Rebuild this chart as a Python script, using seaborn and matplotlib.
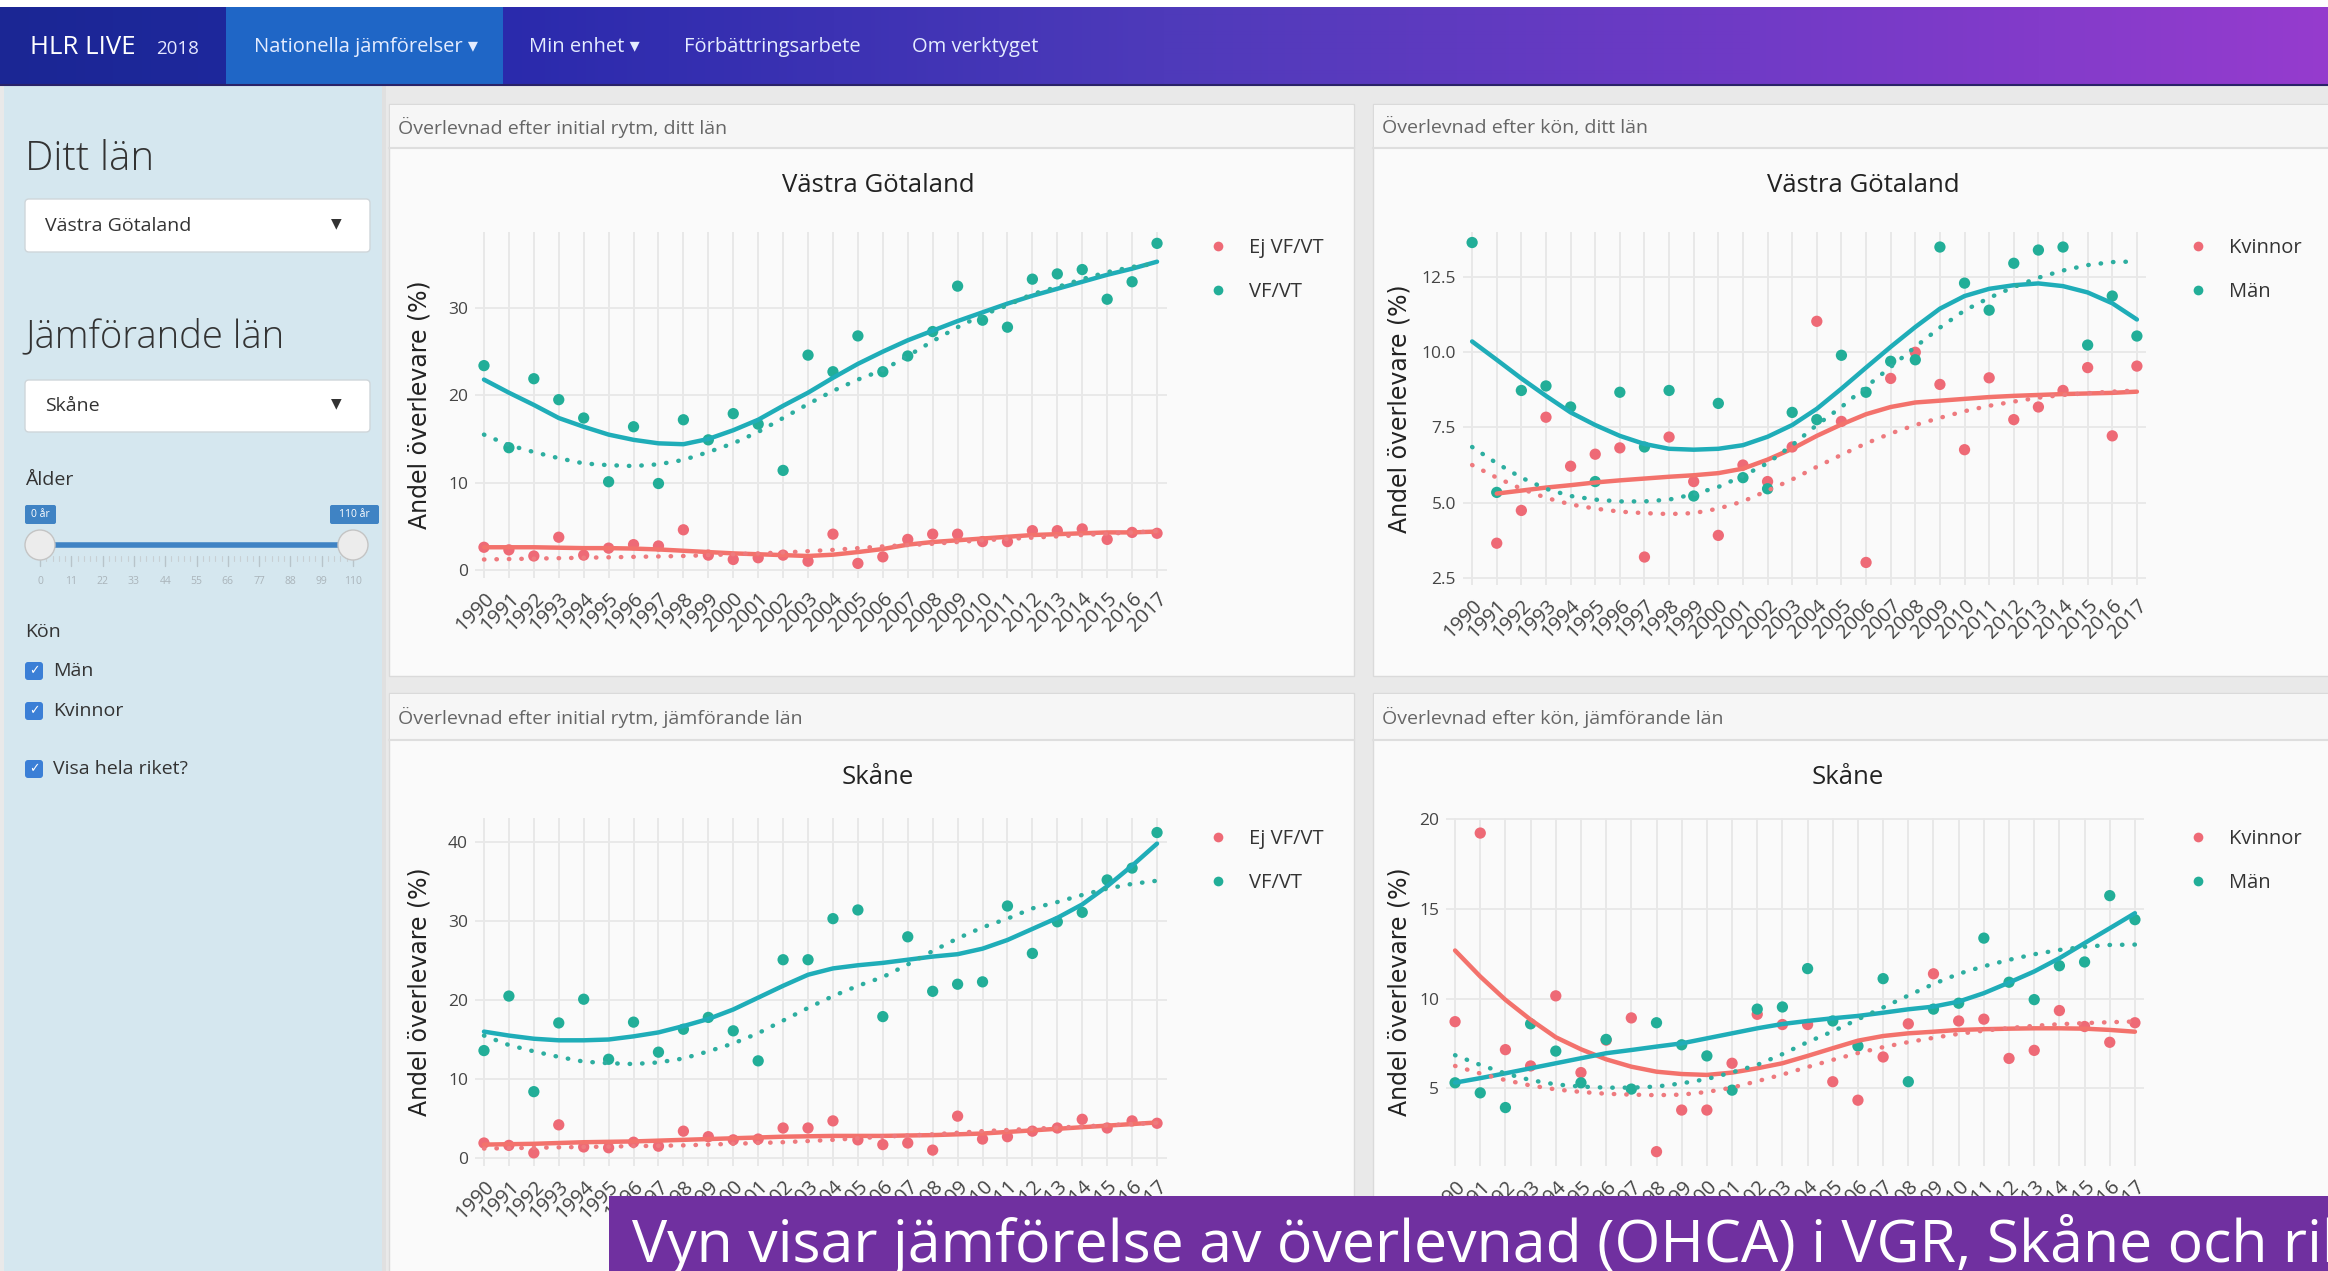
import numpy as np
import pandas as pd
import matplotlib
matplotlib.use("Agg")
import matplotlib.pyplot as plt
from matplotlib.patches import Rectangle, FancyBboxPatch, Circle
from matplotlib.lines import Line2D
import seaborn as sns

# ---------------------------------------------------------------- data
years = list(range(1990, 2018))
year_labels = [str(y) for y in years]
rhythm_groups = ["Ej VF/VT", "VF/VT"]
sex_groups = ["Kvinnor", "Män"]
NaN = np.nan

# Västra Götaland - initial rhythm
vg_ejvf_obs = [2.6, 2.3, 1.6, 3.75, 1.7, 2.5, 2.9, 2.75, 4.6, 1.7, 1.2, 1.4, 1.7, 1.0,
               4.1, 0.75, 1.5, 3.5, 4.1, 4.1, 3.25, 3.25, 4.5, 4.5, 4.7, 3.5, 4.3, 4.2]
vg_vf_obs = [23.4, 14.0, 21.9, 19.5, 17.4, 10.1, 16.4, 9.9, 17.2, 14.9, 17.9, 16.7, 11.4, 24.6,
             22.7, 26.8, 22.7, 24.5, 27.3, 32.5, 28.6, 27.8, 33.3, 33.9, 34.4, 31.0, 33.0, 37.4]
vg_ejvf_fit = [2.6, 2.6, 2.6, 2.55, 2.5, 2.5, 2.45, 2.35, 2.2, 2.05, 1.9, 1.8, 1.7, 1.6,
               1.75, 2.05, 2.4, 2.9, 3.2, 3.4, 3.6, 3.8, 4.0, 4.1, 4.2, 4.3, 4.3, 4.4]
vg_vf_fit = [21.8, 20.3, 18.9, 17.4, 16.4, 15.5, 14.9, 14.5, 14.4, 15.0, 16.0, 17.2, 18.8, 20.3,
             22.0, 23.6, 25.0, 26.3, 27.4, 28.5, 29.5, 30.5, 31.4, 32.2, 33.0, 33.8, 34.5, 35.3]

# Skåne - initial rhythm
sk_ejvf_obs = [1.9, 1.6, 0.65, 4.2, 1.4, 1.3, 2.0, 1.5, 3.4, 2.7, 2.3, 2.4, 3.8, 3.8,
               4.7, 2.3, 1.7, 1.9, 1.0, 5.3, 2.4, 2.7, 3.4, 3.8, 4.9, 3.8, 4.7, 4.4]
sk_vf_obs = [13.6, 20.5, 8.4, 17.1, 20.1, 12.5, 17.2, 13.4, 16.3, 17.8, 16.1, 12.3, 25.1, 25.1,
             30.3, 31.4, 17.9, 28.0, 21.1, 22.0, 22.3, 31.9, 25.9, 29.9, 31.1, 35.2, 36.7, 41.2]
sk_ejvf_fit = [1.7, 1.75, 1.8, 1.9, 2.0, 2.05, 2.1, 2.2, 2.3, 2.4, 2.5, 2.6, 2.7, 2.75,
               2.8, 2.8, 2.8, 2.85, 2.9, 3.0, 3.1, 3.3, 3.5, 3.7, 3.9, 4.1, 4.3, 4.5]
sk_vf_fit = [16.0, 15.5, 15.1, 14.9, 14.9, 15.0, 15.4, 15.9, 16.7, 17.6, 18.8, 20.3, 21.8, 23.2,
             24.0, 24.4, 24.7, 25.1, 25.5, 25.8, 26.5, 27.6, 29.0, 30.4, 32.1, 34.4, 37.0, 39.8]

# Hela riket - initial rhythm (dotted)
nat_ejvf_fit = [1.2, 1.25, 1.3, 1.35, 1.4, 1.45, 1.5, 1.55, 1.6, 1.7, 1.8, 1.9, 2.0, 2.15,
                2.3, 2.5, 2.7, 2.85, 3.0, 3.2, 3.4, 3.55, 3.7, 3.85, 4.0, 4.15, 4.3, 4.45]
nat_vf_fit = [15.5, 14.3, 13.5, 12.8, 12.2, 12.0, 11.9, 12.1, 12.6, 13.5, 14.5, 15.8, 17.4, 19.0,
              20.5, 21.8, 22.9, 24.5, 26.2, 27.8, 29.2, 30.3, 31.6, 32.4, 33.3, 34.1, 34.7, 35.1]

# Västra Götaland - sex
vg_kv_obs = [NaN, 3.65, 4.74, 7.84, 6.21, 6.61, 6.82, 3.19, 7.18, 5.70, 3.91, 6.25, 5.70, 6.85,
             11.03, 7.70, 3.01, 9.13, 10.0, 8.93, 6.76, 9.15, 7.76, 8.18, 8.73, 9.49, 7.22, 9.54]
vg_man_obs = [13.65, 5.34, 8.73, 8.88, 8.18, 5.70, 8.67, 6.85, 8.73, 5.22, 8.30, 5.83, 5.46, 8.0,
              7.76, 9.9, 8.67, 9.7, 9.75, 13.5, 12.3, 11.4, 12.96, 13.4, 13.5, 10.24, 11.87, 10.54]
vg_kv_fit = [NaN, 5.3, 5.4, 5.5, 5.58, 5.67, 5.74, 5.80, 5.86, 5.91, 5.98, 6.13, 6.43, 6.79,
             7.22, 7.60, 7.94, 8.18, 8.33, 8.39, 8.45, 8.51, 8.55, 8.58, 8.61, 8.63, 8.65, 8.69]
vg_man_fit = [10.36, 9.75, 9.13, 8.55, 8.0, 7.58, 7.22, 6.95, 6.79, 6.76, 6.79, 6.91, 7.19, 7.58,
              8.12, 8.79, 9.49, 10.18, 10.84, 11.45, 11.87, 12.11, 12.23, 12.29, 12.2, 11.99, 11.63, 11.09]

# Skåne - sex
sk_kv_obs = [8.72, 19.24, 7.16, 6.25, 10.16, 5.88, 7.69, 8.93, 1.47, 3.79, 3.79, 6.40, 9.13, 8.56,
             8.56, 5.37, 4.34, 6.75, 8.60, 11.39, 8.76, 8.86, 6.67, 7.12, 9.34, 8.45, 7.57, 8.66]
sk_man_obs = [5.31, 4.75, 3.93, 8.60, 7.08, 5.31, 7.73, 4.96, 8.66, 7.43, 6.81, 4.90, 9.42, 9.54,
              11.68, 8.76, 7.36, 11.12, 5.37, 9.42, 9.75, 13.38, 10.92, 9.95, 11.84, 12.05, 15.75, 14.41]
sk_kv_fit = [12.69, 11.24, 9.94, 8.83, 7.85, 7.18, 6.62, 6.21, 5.93, 5.80, 5.75, 5.88, 6.12, 6.40,
             6.81, 7.24, 7.66, 7.92, 8.07, 8.16, 8.26, 8.30, 8.33, 8.35, 8.35, 8.33, 8.26, 8.16]
sk_man_fit = [5.32, 5.57, 5.84, 6.12, 6.40, 6.68, 6.96, 7.14, 7.33, 7.51, 7.79, 8.07, 8.35, 8.59,
              8.76, 8.91, 9.04, 9.22, 9.41, 9.56, 9.84, 10.31, 10.9, 11.52, 12.26, 13.1, 13.93, 14.77]

# Hela riket - sex (dotted)
nat_kv_fit = [6.25, 5.83, 5.46, 5.16, 4.94, 4.80, 4.70, 4.65, 4.62, 4.65, 4.80, 5.04, 5.40, 5.77,
              6.19, 6.59, 6.97, 7.30, 7.58, 7.82, 8.04, 8.22, 8.36, 8.49, 8.58, 8.64, 8.69, 8.73]
nat_man_fit = [6.85, 6.31, 5.83, 5.46, 5.22, 5.1, 5.04, 5.04, 5.1, 5.28, 5.52, 5.89, 6.31, 6.91,
               7.58, 8.18, 8.85, 9.51, 10.18, 10.82, 11.39, 11.81, 12.17, 12.48, 12.72, 12.9, 13.0, 13.02]

yticks_vg_rhythm = [0, 10, 20, 30]
yticks_sk_rhythm = [0, 10, 20, 30, 40]
yticks_vg_sex = [2.5, 5.0, 7.5, 10.0, 12.5]
yticks_sk_sex = [5, 10, 15, 20]

nav_items = ["Nationella jämförelser ▾", "Min enhet ▾", "Förbättringsarbete", "Om verktyget"]
slider_labels = ["0", "11", "22", "33", "44", "55", "66", "77", "88", "99", "110"]
checkbox_labels = ["Män", "Kvinnor", "Visa hela riket?"]
panel_headers = ["Överlevnad efter initial rytm, ditt län", "Överlevnad efter kön, ditt län",
                 "Överlevnad efter initial rytm, jämförande län", "Överlevnad efter kön, jämförande län"]
caption = "Vyn visar jämförelse av överlevnad (OHCA) i VGR, Skåne och riket"

# ---------------------------------------------------------------- style
W, H = 2328, 1271
sns.set_theme(style="white")
plt.rcParams["font.family"] = ["Open Sans", "DejaVu Sans"]

RED_PT, TEAL_PT = "#EE6A76", "#22AE98"
RED_LN, TEAL_LN = "#F3726C", "#1FADB8"
RED_DOT, TEAL_DOT = "#EE7A7E", "#2DAEA0"

fig = plt.figure(figsize=(W / 100, H / 100), dpi=100)
fig.patch.set_facecolor("#e9e9e9")

bg = fig.add_axes([0, 0, 1, 1], zorder=-1)
bg.axis("off")


def box(ax, l, t, r, b, fc, ec="none", lw=0, z=1, rnd=0):
    if rnd:
        p = FancyBboxPatch((l, t), r - l, b - t, boxstyle=f"round,pad=0,rounding_size={rnd}",
                           fc=fc, ec=ec, lw=lw, zorder=z)
    else:
        p = Rectangle((l, t), r - l, b - t, fc=fc, ec=ec, lw=lw, zorder=z)
    ax.add_patch(p)


# top strip + nav bar gradient
box(bg, 0, 0, W, 7, "white", z=0.5)
stops_x = [0, 226, 503, 1164, 1750, 2328]
stops_c = [(27, 38, 148), (30, 40, 156), (42, 42, 172), (78, 58, 186), (112, 58, 198), (150, 60, 206)]
xs = np.arange(W)
grad = np.stack([np.interp(xs, stops_x, [c[i] for c in stops_c]) for i in range(3)], axis=-1) / 255
grad = np.repeat(grad[None, :, :], 2, axis=0)
bg.imshow(grad, extent=(0, W, 85, 7), aspect="auto", zorder=1, interpolation="bilinear")
box(bg, 226, 7, 503, 85, "#1f66c6", z=2)
bg.plot([0, W], [85, 85], color="#2a2368", lw=1.5, zorder=2)
bg.text(30, 47, "HLR LIVE", color="white", fontsize=18.5, va="center", zorder=3)
bg.text(156, 49, "2018", color="#e6e8ff", fontsize=13.5, va="center", zorder=3)
for x, label in zip([254, 529, 684, 912], nav_items):
    bg.text(x, 47, label, color="#e4ecff", fontsize=14.5, va="center", zorder=3,
            family=["Open Sans", "DejaVu Sans"])

# sidebar
box(bg, 4, 86, 382, H, "#d5e7ef", z=1)
box(bg, 382, 86, 386, H, "#e0e0e0", z=1)
bg.text(25, 159, "Ditt län", fontsize=29, color="#333", va="center", fontweight="light", zorder=3)
box(bg, 25, 199, 370, 252, "white", ec="#cfd6da", lw=1, z=2, rnd=4)
bg.text(45, 226, "Västra Götaland", fontsize=14, color="#333", va="center", zorder=3)
bg.text(336, 224, "▼", fontsize=10, color="#333", va="center", ha="center", zorder=3)
bg.text(25, 337, "Jämförande län", fontsize=27.5, color="#333", va="center", fontweight="light", zorder=3)
box(bg, 25, 380, 370, 432, "white", ec="#cfd6da", lw=1, z=2, rnd=4)
bg.text(45, 406, "Skåne", fontsize=14, color="#333", va="center", zorder=3)
bg.text(336, 404, "▼", fontsize=10, color="#333", va="center", ha="center", zorder=3)
bg.text(25, 480, "Ålder", fontsize=14, color="#333", va="center", zorder=3)
box(bg, 25, 505, 56, 524, "#3f83c4", z=2, rnd=2)
bg.text(40.5, 514.5, "0 år", fontsize=7.5, color="white", ha="center", va="center", zorder=3)
box(bg, 330, 505, 379, 524, "#3f83c4", z=2, rnd=2)
bg.text(354.5, 514.5, "110 år", fontsize=7.5, color="white", ha="center", va="center", zorder=3)
bg.plot([40, 353], [545, 545], color="#3f83c4", lw=4, solid_capstyle="butt", zorder=2)
tick_x = np.linspace(40, 353, len(slider_labels))
for i, (tx, lab) in enumerate(zip(tick_x, slider_labels)):
    bg.plot([tx, tx], [556, 566], color="#b8c4ca", lw=1, zorder=2)
    bg.text(tx, 582, lab, fontsize=7.5, color="#aab4ba", ha="center", va="center", zorder=3)
    if i < len(slider_labels) - 1:
        for k in range(1, 5):
            mx = tx + k * (tick_x[1] - tick_x[0]) / 5
            bg.plot([mx, mx], [556, 561], color="#c8d0d4", lw=0.8, zorder=2)
for hx in (40, 353):
    bg.add_patch(Circle((hx, 545), 15, fc="#ececec", ec="#c4c4c4", lw=1, zorder=4))
bg.text(25, 632, "Kön", fontsize=14, color="#333", va="center", zorder=3)
for cy, lab in zip([671, 711, 769], checkbox_labels):
    box(bg, 25, cy - 9, 43, cy + 9, "#3b7fd6", z=2, rnd=3)
    bg.text(34, cy, "✓", fontsize=9, color="white", ha="center", va="center",
            family=["DejaVu Sans"], zorder=3)
    bg.text(53, cy, lab, fontsize=14, color="#333", va="center", zorder=3)

# panels
panel_boxes = [(389, 104, 1354, 676, 148), (1373, 104, W + 5, 676, 148),
               (389, 693, 1354, H + 5, 740), (1373, 693, W + 5, H + 5, 740)]
for (l, t, r, b, sep), head in zip(panel_boxes, panel_headers):
    box(bg, l, t, r, b, "#fafafa", ec="#dadada", lw=1, z=1)
    box(bg, l + 1, t + 1, r - 1, sep, "#f6f6f6", z=1.5)
    bg.plot([l, r], [sep, sep], color="#dedede", lw=1.5, zorder=2)
    bg.text(l + 9, (t + sep) / 2 + 1, head, fontsize=14, color="#666", va="center", zorder=3)

bg.set_xlim(0, W)
bg.set_ylim(H, 0)


def long_df(groups, series):
    frames = [pd.DataFrame({"year": years, "value": vals, "group": g}) for g, vals in zip(groups, series)]
    return pd.concat(frames, ignore_index=True)


def draw_plot(rect_px, xlim, ylim, yticks, yticklabels, groups, obs, fit, nat,
              title, title_xy, legend_xy, ylabel_cx):
    l, t, r, b = rect_px
    ax = fig.add_axes([l / W, 1 - b / H, (r - l) / W, (b - t) / H], zorder=0)
    ax.patch.set_visible(False)
    sns.scatterplot(data=long_df(groups, obs), x="year", y="value", hue="group", hue_order=groups,
                    palette=[RED_PT, TEAL_PT], s=66, linewidth=0, legend=False, ax=ax, zorder=3)
    sns.lineplot(data=long_df(groups, fit), x="year", y="value", hue="group", hue_order=groups,
                 palette=[RED_LN, TEAL_LN], linewidth=3.2, errorbar=None, legend=False, ax=ax, zorder=4)
    sns.lineplot(data=long_df(groups, nat), x="year", y="value", hue="group", hue_order=groups,
                 palette=[RED_DOT, TEAL_DOT], linewidth=3.2, linestyle=(0, (0.1, 2.7)),
                 dash_capstyle="round", errorbar=None, legend=False, ax=ax, zorder=4)
    ax.set_xlim(*xlim)
    ax.set_ylim(*ylim)
    ax.set_xticks(years)
    ax.set_xticklabels(year_labels, rotation=45, ha="right", rotation_mode="anchor")
    ax.set_yticks(yticks)
    ax.set_yticklabels(yticklabels)
    ax.grid(True, axis="x", color="#e3e3e3", lw=1.1)
    ax.grid(True, axis="y", color="#e9e9e9", lw=1.4)
    ax.set_axisbelow(True)
    for s in ax.spines.values():
        s.set_visible(False)
    ax.tick_params(axis="both", length=0, labelcolor="#444")
    ax.tick_params(axis="y", pad=5, labelsize=12.5)
    ax.tick_params(axis="x", pad=8, labelsize=14.5)
    ax.set_xlabel("")
    ax.set_ylabel("Andel överlevare (%)", fontsize=17, color="#222", family=["DejaVu Sans"])
    ax.yaxis.set_label_coords((ylabel_cx + 12 - l) / (r - l), 0.5)
    ax.set_title(title, x=(title_xy[0] - l) / (r - l), y=(b - title_xy[1]) / (b - t),
                 fontsize=18.5, color="#222", va="center", pad=0)
    handles = [Line2D([], [], ls="none", marker="o", ms=7, mfc=c, mec="none") for c in (RED_PT, TEAL_PT)]
    leg = ax.legend(handles, groups, loc="upper left", bbox_to_anchor=legend_xy,
                    bbox_transform=bg.transData, frameon=False, fontsize=14.5, handlelength=0.8,
                    handletextpad=1.15, labelspacing=1.2, borderpad=0, borderaxespad=0)
    for tx in leg.get_texts():
        tx.set_color("#333")
    return ax


draw_plot((475, 232, 1167, 578), (1989.64, 2017.4), (-0.92, 38.7), yticks_vg_rhythm,
          ["0", "10", "20", "30"], rhythm_groups,
          [vg_ejvf_obs, vg_vf_obs], [vg_ejvf_fit, vg_vf_fit], [nat_ejvf_fit, nat_vf_fit],
          "Västra Götaland", (878, 186), (1210, 238), 420)
draw_plot((1463, 232, 2146, 585), (1989.63, 2017.37), (2.26, 14.0), yticks_vg_sex,
          ["2.5", "5.0", "7.5", "10.0", "12.5"], sex_groups,
          [vg_kv_obs, vg_man_obs], [vg_kv_fit, vg_man_fit], [nat_kv_fit, nat_man_fit],
          "Västra Götaland", (1863, 186), (2190, 238), 1399)
draw_plot((475, 818, 1167, 1166), (1989.64, 2017.4), (-1.01, 43.04), yticks_sk_rhythm,
          ["0", "10", "20", "30", "40"], rhythm_groups,
          [sk_ejvf_obs, sk_vf_obs], [sk_ejvf_fit, sk_vf_fit], [nat_ejvf_fit, nat_vf_fit],
          "Skåne", (878, 777), (1210, 829), 420)
draw_plot((1446, 818, 2144, 1166), (1989.64, 2017.36), (0.67, 20.08), yticks_sk_sex,
          ["5", "10", "15", "20"], sex_groups,
          [sk_kv_obs, sk_man_obs], [sk_kv_fit, sk_man_fit], [nat_kv_fit, nat_man_fit],
          "Skåne", (1848, 777), (2190, 829), 1399)

# caption overlay
fg = fig.add_axes([0, 0, 1, 1], zorder=10)
fg.axis("off")
box(fg, 609, 1196, W + 10, H + 10, "#7030a0", z=1)
fg.text(632, 1262, caption, fontsize=42.5, color="white", va="baseline", ha="left", zorder=2)
fg.set_xlim(0, W)
fg.set_ylim(H, 0)

fig.savefig("out.png", dpi=100)
